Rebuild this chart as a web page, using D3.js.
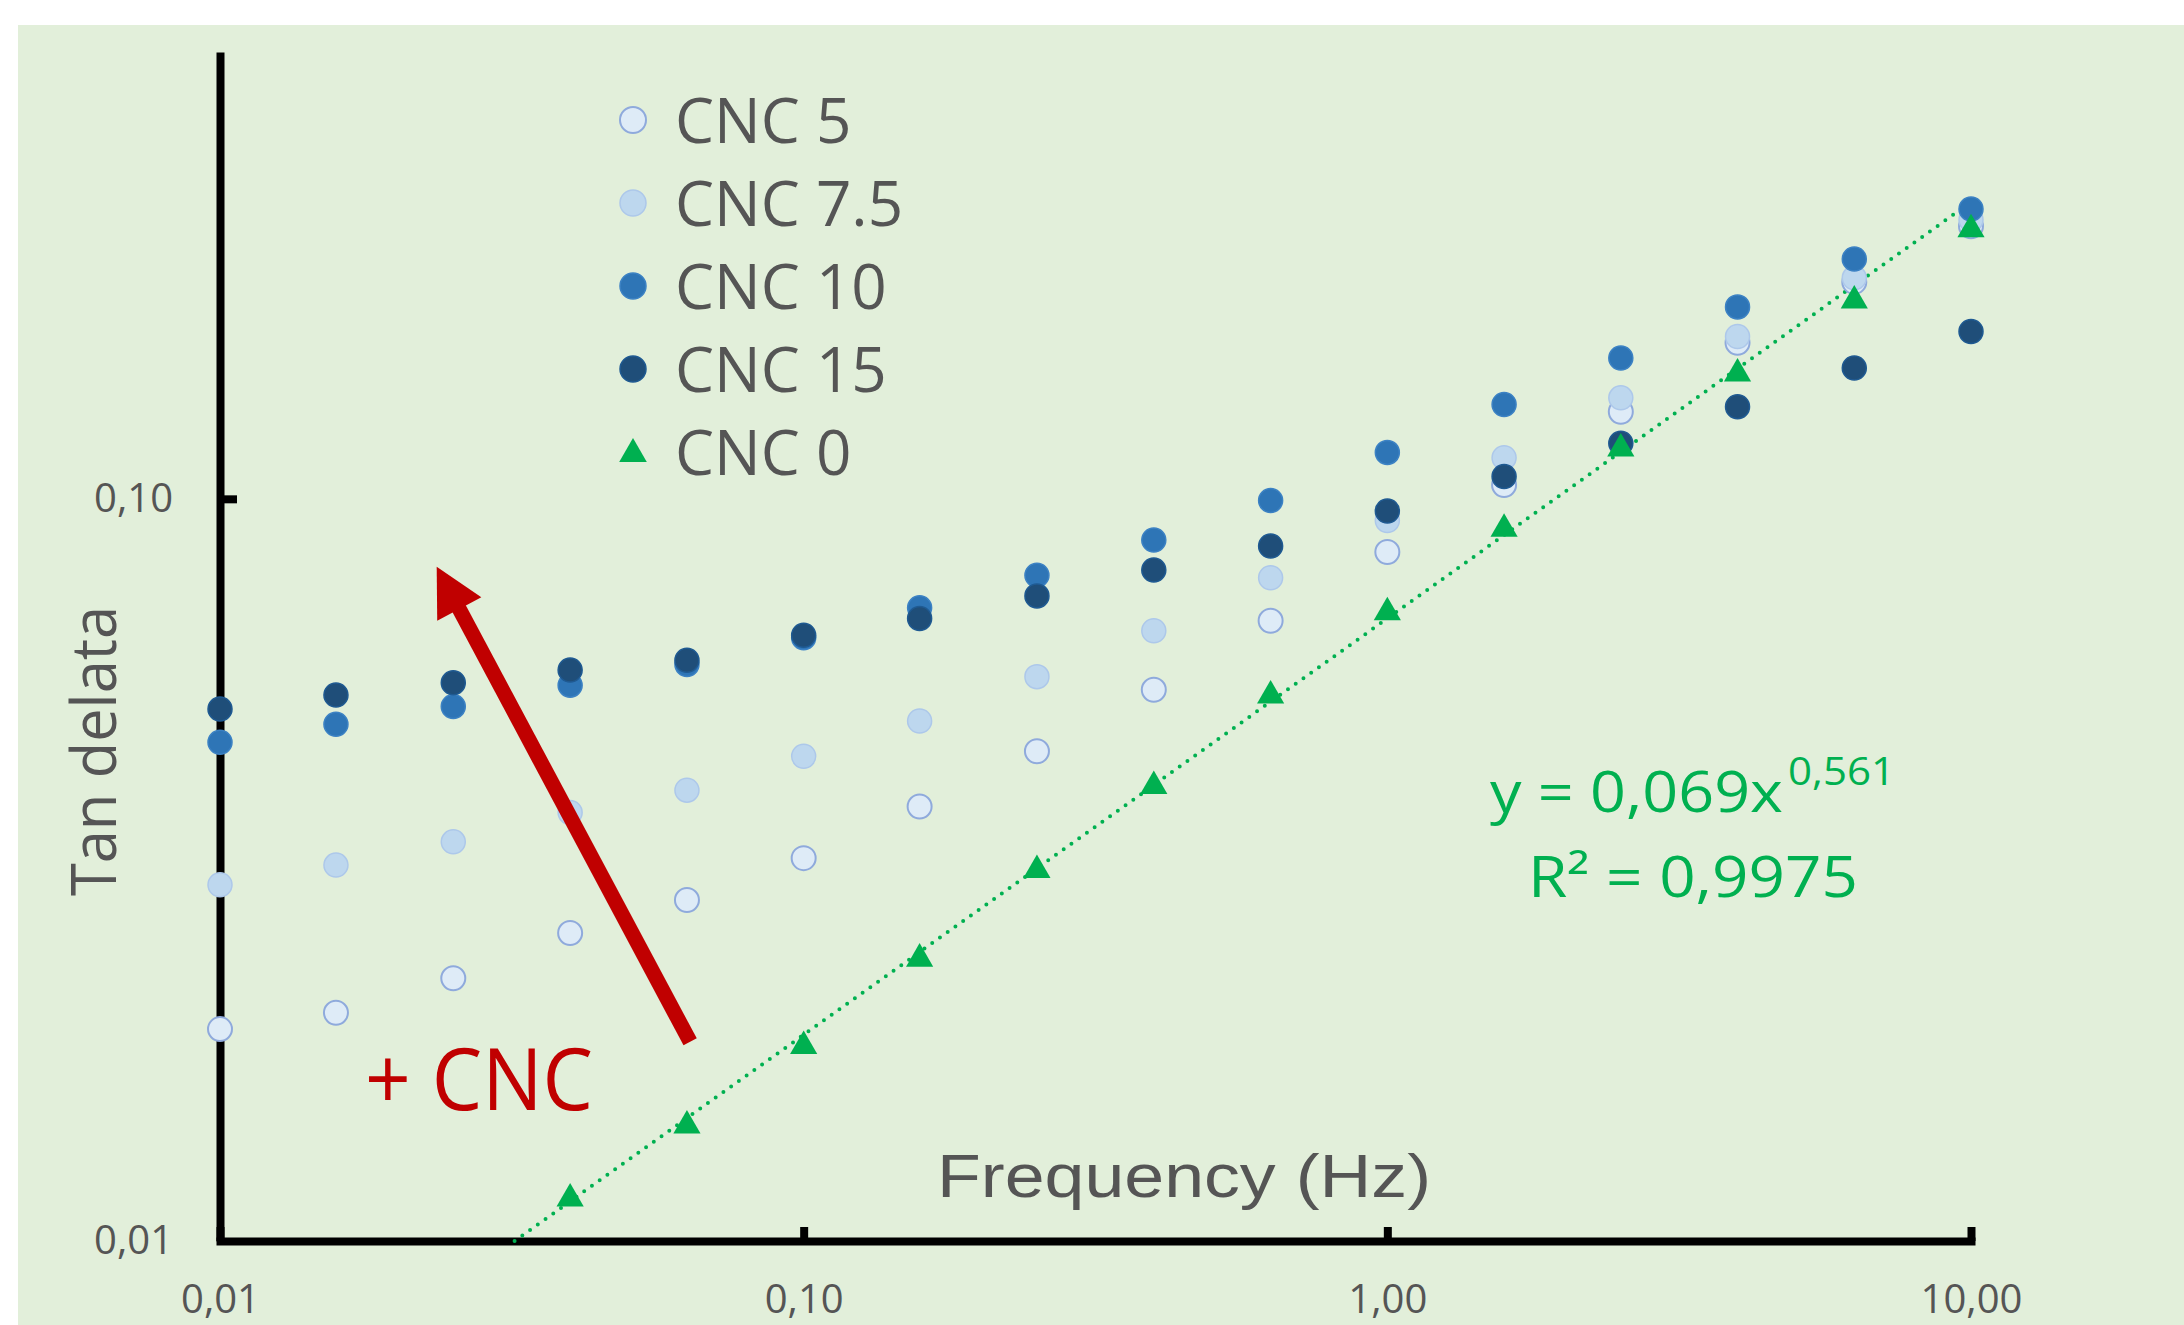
<!DOCTYPE html>
<html>
<head>
<meta charset="utf-8">
<script src="https://cdn.jsdelivr.net/npm/d3@7"></script>
<style>
  body { margin: 0; background: #fff; }
  svg { display: block; }
</style>
</head>
<body>
<div id="chart"></div>
<script>
// frequencies (Hz), 5 points per decade
const freq = [0.01, 0.0158, 0.0251, 0.0398, 0.0631, 0.1, 0.158, 0.251, 0.398, 0.631, 1, 1.585, 2.512, 3.981, 6.31, 10];

// tan delta for each CNC content
const cnc5  = [0.0193, 0.0203, 0.0226, 0.0260, 0.0288, 0.0328, 0.0385, 0.0457, 0.0553, 0.0685, 0.0848, 0.1044, 0.1310, 0.1623, 0.1960, 0.2330];
const cnc75 = [0.0302, 0.0321, 0.0345, 0.0378, 0.0405, 0.0450, 0.0502, 0.0576, 0.0664, 0.0783, 0.0935, 0.1136, 0.1368, 0.1655, 0.1985, 0.2377];
const cnc10 = [0.0470, 0.0497, 0.0525, 0.0561, 0.0598, 0.0650, 0.0713, 0.0789, 0.0880, 0.0995, 0.1155, 0.1340, 0.1548, 0.1814, 0.2105, 0.2458];
const cnc15 = [0.0521, 0.0544, 0.0565, 0.0588, 0.0606, 0.0655, 0.0690, 0.0740, 0.0802, 0.0864, 0.0963, 0.1072, 0.1188, 0.1331, 0.1501, 0.1681];
const cnc0  = [null, null, null, 0.0114, 0.0143, 0.0183, 0.0240, 0.0316, 0.0410, 0.0543, 0.0703, 0.0911, 0.1168, 0.1474, 0.1849, 0.2307];

const seriesNames = ["CNC 5", "CNC 7.5", "CNC 10", "CNC 15", "CNC 0"];
const seriesValues = [cnc5, cnc75, cnc10, cnc15, cnc0];

// power trendline for CNC 0
const trendA = 0.069;
const trendB = 0.561;
const trendLabel = "y = 0,069x";
const trendExpLabel = "0,561";
const r2Label = "R\u00B2 = 0,9975";

const xTicks = [0.01, 0.1, 1, 10];
const yTicks = [0.01, 0.1];

// red arrow annotation (data coords)
const arrowFrom = [0.0639, 0.01855];
const arrowTo = [0.02351, 0.0810];

const width = 2184, height = 1325;
const grey = "#555555";
const green = "#00B050";

let styles = {
    "CNC 5":   { fill: "#DEEBF7", stroke: "#8FAADC", sw: 2 },
    "CNC 7.5": { fill: "#BDD7EE", stroke: "#ADC8EA", sw: 1.5 },
    "CNC 10":  { fill: "#2E75B6", stroke: "#3C82C4", sw: 1.5 },
    "CNC 15":  { fill: "#1F4E79", stroke: "#1F5A92", sw: 1.5 },
    "CNC 0":   { fill: green, stroke: "none", sw: 0 }
};

let svg = d3.select("#chart")
    .append("svg")
    .attr("width", width)
    .attr("height", height);

svg.append("rect")
    .attr("x", 18)
    .attr("y", 25)
    .attr("width", width - 18)
    .attr("height", height - 25)
    .attr("fill", "#E2EFDA");

let x = d3.scaleLog().domain([0.01, 10]).range([220, 1971]);
let y = d3.scaleLog().domain([0.01, 0.4]).range([1241, 52]);

let fmt = d3.formatLocale({ decimal: ",", thousands: ".", grouping: [3], currency: ["", ""] }).format(".2f");

// axes
let xAxis = d3.axisBottom(x)
    .tickValues(xTicks)
    .tickFormat(fmt)
    .tickSizeInner(-14)
    .tickSizeOuter(0)
    .tickPadding(44);

let yAxis = d3.axisLeft(y)
    .tickValues(yTicks)
    .tickFormat(fmt)
    .tickSizeInner(-17)
    .tickSizeOuter(0)
    .tickPadding(47);

let gx = svg.append("g")
    .attr("transform", `translate(0, ${y(0.01)})`)
    .call(xAxis);

let gy = svg.append("g")
    .attr("transform", `translate(${x(0.01)}, 0)`)
    .call(yAxis);

[gx, gy].forEach(function (g) {
    g.attr("font-family", "'Open Sans', sans-serif").attr("font-size", 40);
    g.select(".domain").attr("stroke", "#000").attr("stroke-width", 8);
    g.selectAll(".tick line").attr("stroke", "#000").attr("stroke-width", 8);
    g.selectAll(".tick text").attr("fill", grey);
});
gx.select(".domain").attr("stroke-linecap", "square");
gy.selectAll(".tick").filter(d => d === 0.01).select("line").remove();

// axis titles
svg.append("text")
    .attr("x", 937)
    .attr("y", 1197)
    .attr("font-family", "'Liberation Sans', Arial, sans-serif")
    .attr("font-size", 62)
    .attr("fill", grey)
    .attr("textLength", 494)
    .attr("lengthAdjust", "spacingAndGlyphs")
    .text("Frequency (Hz)");

svg.append("text")
    .attr("transform", "translate(116, 751) rotate(-90)")
    .attr("text-anchor", "middle")
    .attr("font-family", "'Open Sans', sans-serif")
    .attr("font-size", 62)
    .attr("fill", grey)
    .attr("textLength", 290)
    .attr("lengthAdjust", "spacingAndGlyphs")
    .text("Tan delata");

// trendline, drawn from where it meets the bottom axis
let trendStart = Math.pow(0.01 / trendA, 1 / trendB);
let trendPts = [trendStart, 10].map(f => [f, trendA * Math.pow(f, trendB)]);

svg.append("path")
    .datum(trendPts)
    .attr("fill", "none")
    .attr("stroke", green)
    .attr("stroke-width", 4)
    .attr("stroke-linecap", "round")
    .attr("stroke-dasharray", "0 9.5")
    .attr("d", d3.line().x(d => x(d[0])).y(d => y(d[1])));

// points
let tri = d3.symbol().type(d3.symbolTriangle).size(320);

seriesNames.forEach(function (name, i) {
    let st = styles[name];
    let pts = freq.map((f, j) => ({ f: f, v: seriesValues[i][j] })).filter(d => d.v != null);
    let g = svg.append("g");
    if (name === "CNC 0") {
        g.selectAll("path")
            .data(pts)
            .join("path")
            .attr("d", tri)
            .attr("transform", d => `translate(${x(d.f)}, ${y(d.v)})`)
            .attr("fill", st.fill);
    } else {
        g.selectAll("circle")
            .data(pts)
            .join("circle")
            .attr("cx", d => x(d.f))
            .attr("cy", d => y(d.v))
            .attr("r", 12)
            .attr("fill", st.fill)
            .attr("stroke", st.stroke)
            .attr("stroke-width", st.sw);
    }
});

// legend
let legend = svg.append("g").attr("transform", "translate(633, 120)");
seriesNames.forEach(function (name, i) {
    let st = styles[name];
    let row = legend.append("g").attr("transform", `translate(0, ${i * 83})`);
    if (name === "CNC 0") {
        row.append("path")
            .attr("d", d3.symbol().type(d3.symbolTriangle).size(330))
            .attr("transform", "translate(0, 2)")
            .attr("fill", st.fill);
    } else {
        row.append("circle")
            .attr("r", 13)
            .attr("fill", st.fill)
            .attr("stroke", st.stroke)
            .attr("stroke-width", st.sw);
    }
    row.append("text")
        .attr("x", 42)
        .attr("y", 23)
        .attr("font-family", "'Open Sans', sans-serif")
        .attr("font-size", 62)
        .attr("fill", grey)
        .text(name);
});

// equation
svg.append("text")
    .attr("x", 1490)
    .attr("y", 812)
    .attr("font-family", "'Open Sans', sans-serif")
    .attr("font-size", 56)
    .attr("fill", green)
    .attr("textLength", 293)
    .attr("lengthAdjust", "spacingAndGlyphs")
    .text(trendLabel);

svg.append("text")
    .attr("x", 1788)
    .attr("y", 785)
    .attr("font-family", "'Open Sans', sans-serif")
    .attr("font-size", 38)
    .attr("fill", green)
    .attr("textLength", 107)
    .attr("lengthAdjust", "spacingAndGlyphs")
    .text(trendExpLabel);

svg.append("text")
    .attr("x", 1528)
    .attr("y", 897)
    .attr("font-family", "'Open Sans', sans-serif")
    .attr("font-size", 56)
    .attr("fill", green)
    .attr("textLength", 330)
    .attr("lengthAdjust", "spacingAndGlyphs")
    .text(r2Label);

// red arrow
let p0 = [x(arrowFrom[0]), y(arrowFrom[1])];
let p1 = [x(arrowTo[0]), y(arrowTo[1])];
let dx = p1[0] - p0[0], dy = p1[1] - p0[1];
let len = Math.sqrt(dx * dx + dy * dy);
let ux = dx / len, uy = dy / len;
let headLen = 48, headHalf = 25;
let base = [p1[0] - ux * headLen, p1[1] - uy * headLen];

svg.append("line")
    .attr("x1", p0[0]).attr("y1", p0[1])
    .attr("x2", base[0] + ux * 2).attr("y2", base[1] + uy * 2)
    .attr("stroke", "#C00000")
    .attr("stroke-width", 15);

svg.append("polygon")
    .attr("points", [
        p1,
        [base[0] - uy * headHalf, base[1] + ux * headHalf],
        [base[0] + uy * headHalf, base[1] - ux * headHalf]
    ].map(p => p.join(",")).join(" "))
    .attr("fill", "#C00000");

svg.append("text")
    .attr("x", 365)
    .attr("y", 1110)
    .attr("font-family", "'Open Sans', sans-serif")
    .attr("font-size", 86)
    .attr("fill", "#C00000")
    .attr("textLength", 228)
    .attr("lengthAdjust", "spacingAndGlyphs")
    .text("+ CNC");
</script>
</body>
</html>
